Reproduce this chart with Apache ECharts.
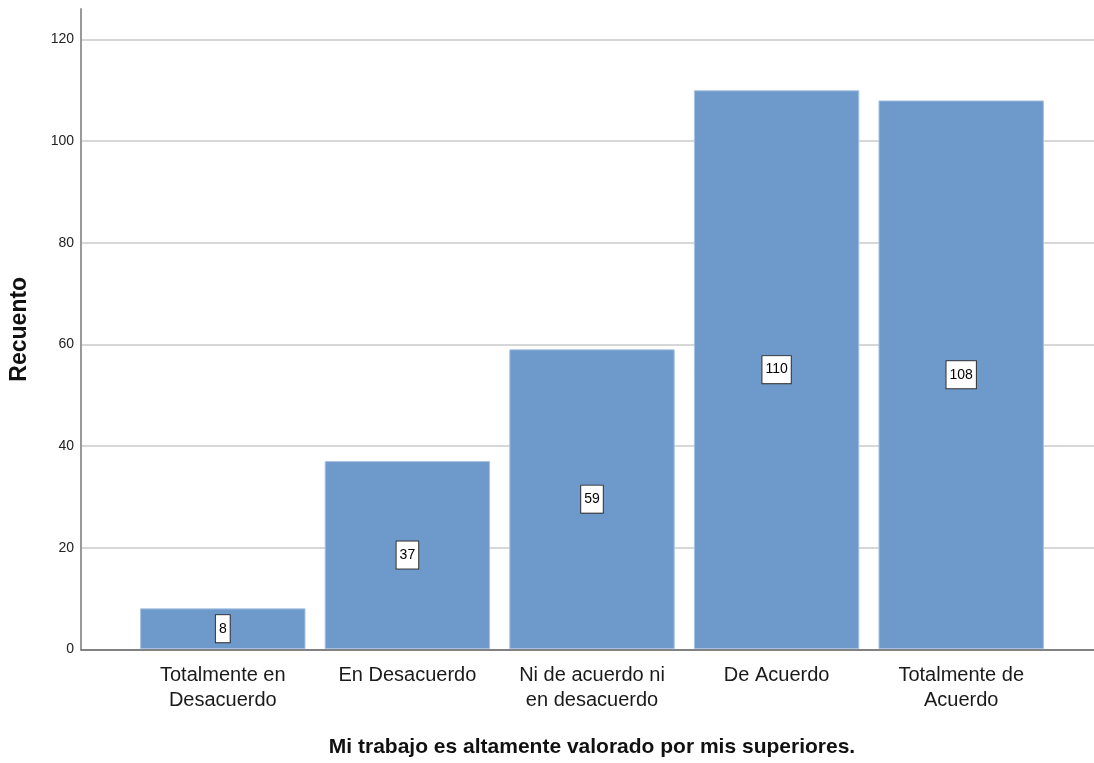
<!DOCTYPE html>
<html>
<head>
<meta charset="utf-8">
<script src="https://cdn.jsdelivr.net/npm/echarts@6/dist/echarts.min.js"></script>
<style>
html,body{margin:0;padding:0;background:#fff;}
#chart{width:1094px;height:763px;}
</style>
</head>
<body>
<div id="chart"></div>
<script>
const categories = ['Totalmente en\nDesacuerdo', 'En Desacuerdo', 'Ni de acuerdo ni\nen desacuerdo', 'De Acuerdo', 'Totalmente de\nAcuerdo'];
const counts = [8, 37, 59, 110, 108];
const xTitle = 'Mi trabajo es altamente valorado por mis superiores.';
const yTitle = 'Recuento';
const yMin = 0, yMax = 126, yStep = 20;

const FONT = '"Liberation Sans", Arial, sans-serif';
const chart = echarts.init(document.getElementById('chart'), null, {renderer: 'canvas'});

chart.setOption({
  backgroundColor: '#ffffff',
  animation: false,
  grid: [
    {left: 79, right: 0, top: 9, bottom: 113.5},
    {left: 130.5, right: 40.5, top: 9, bottom: 113.5}
  ],
  xAxis: [
    {
      gridIndex: 0, type: 'value', min: 0, max: 1,
      axisLine: {show: true, lineStyle: {color: '#666', width: 1.5}},
      axisTick: {show: false}, axisLabel: {show: false}, splitLine: {show: false}
    },
    {
      gridIndex: 1, type: 'category', data: categories,
      axisLine: {show: false}, axisTick: {show: false},
      axisLabel: {fontFamily: FONT, fontSize: 20, color: '#1a1a1a', lineHeight: 25, margin: 14, interval: 0},
      name: xTitle, nameLocation: 'middle', nameGap: 88,
      nameTextStyle: {fontFamily: FONT, fontSize: 21, fontWeight: 'bold', color: '#111'}
    }
  ],
  yAxis: [
    {
      gridIndex: 0, type: 'value', min: yMin, max: yMax, interval: yStep,
      axisLine: {show: true, lineStyle: {color: '#999', width: 2}},
      axisTick: {show: false},
      axisLabel: {fontFamily: FONT, fontSize: 14, color: '#222', margin: 7, showMaxLabel: false,
        formatter: v => (v % yStep === 0 ? String(v) : '')},
      splitLine: {show: true, showMaxLine: false, lineStyle: {color: '#cacaca', width: 1.5}},
      name: yTitle, nameLocation: 'middle', nameRotate: 90, nameGap: 50,
      nameTextStyle: {fontFamily: FONT, fontSize: 23, fontWeight: 'bold', color: '#111'}
    },
    {
      gridIndex: 1, type: 'value', min: yMin, max: yMax, interval: yStep, show: false,
      splitLine: {show: false}
    }
  ],
  series: [{
    type: 'bar',
    xAxisIndex: 1, yAxisIndex: 1,
    data: counts,
    barCategoryGap: '10.4%',
    itemStyle: {color: '#6e9acb', borderColor: '#a9c2e2', borderWidth: 1},
    label: {
      show: true, position: 'inside',
      fontFamily: FONT, fontSize: 14, color: '#000', lineHeight: 16,
      backgroundColor: '#fff', borderColor: '#333', borderWidth: 1,
      padding: [6, 3, 5, 3]
    }
  }]
});
</script>
</body>
</html>
